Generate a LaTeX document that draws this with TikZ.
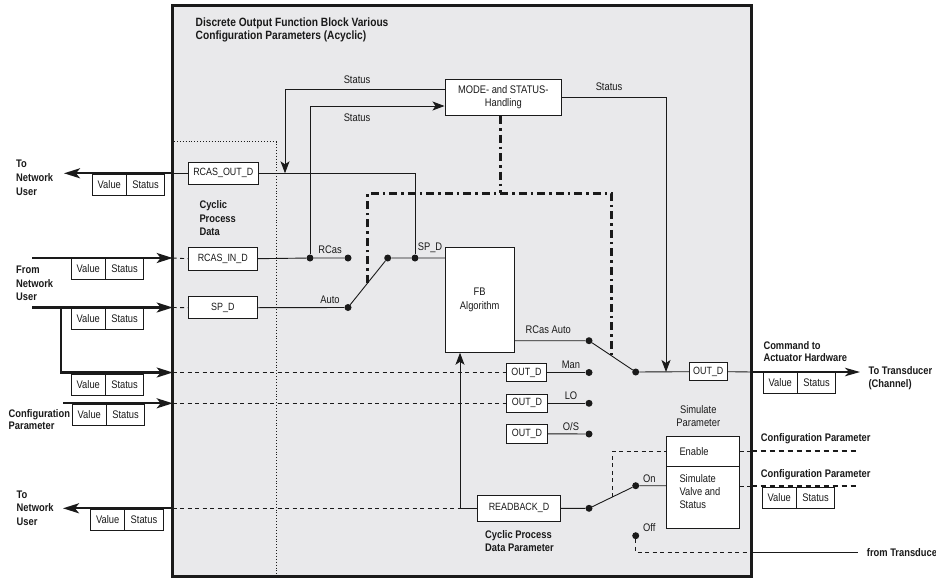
\documentclass[tikz,border=0pt]{standalone}
\usepackage{fontspec}
\setmainfont{Liberation Sans}[FakeStretch=0.85]
\usetikzlibrary{arrows.meta,calc}
\definecolor{panel}{HTML}{E9E9EB}
\definecolor{ink}{HTML}{1A1A1A}

% Value | Status pair: name, left x, top y
\newcommand\valstat[3]{%
  \node[vcell] (#1v) at (#2,#3) {Value};
  \node[scell] (#1s) at (#1v.north east) {Status};}

\begin{document}
\begin{tikzpicture}[x=1pt,y=-1pt,
  every node/.style={font=\fontsize{11}{12.5}\selectfont, text=ink, inner sep=0pt},
  frame/.style={line width=3pt, draw=ink, fill=panel},
  wire/.style={line width=0.9pt, draw=ink},
  bus/.style={line width=2.3pt, draw=ink},
  tip/.style={-{Stealth[length=16pt,width=10pt,inset=4pt]}},
  otip/.style={-{Stealth[length=15pt,width=8.5pt,inset=4pt]}},
  stip/.style={-{Stealth[length=12pt,width=9pt,inset=3pt]}},
  dashwire/.style={wire, dash pattern=on 4pt off 3.5pt},
  cfgdash/.style={line width=1.8pt, draw=ink, dash pattern=on 5.5pt off 3.5pt},
  ctrl/.style={line width=3pt, draw=ink, dash pattern=on 8pt off 4pt on 2.5pt off 4pt},
  pbox/.style={draw=ink, line width=0.9pt, fill=white, align=center},
  sig/.style={pbox, font=\fontsize{10.5}{12}\selectfont},
  dot/.style={circle, fill=ink, minimum size=7pt, inner sep=0pt},
  vcell/.style={draw=ink, line width=0.9pt, fill=white, minimum width=34pt, minimum height=21pt, anchor=north west, outer sep=0pt},
  scell/.style={draw=ink, line width=0.9pt, fill=white, minimum width=38.5pt, minimum height=21pt, anchor=north west, outer sep=0pt},
  head/.style={font=\fontsize{11}{13}\selectfont\bfseries, align=left, anchor=west},
  lbl/.style={font=\fontsize{11}{12.5}\selectfont},
]
\useasboundingbox[fill=white] (0,0) rectangle (936,578);

% function block frame and cyclic data region
\draw[frame] (172.7,6) rectangle (751.7,576.5);
\draw[line width=0.9pt, draw=ink, dotted] (174,141.7) -- (276,141.7) -- (276,575);

\node[head, font=\fontsize{12}{13}\selectfont\bfseries] (title) at (195.5,29.5)
  {Discrete Output Function Block Various\\Configuration Parameters (Acyclic)};

% boxes
\node[pbox, minimum width=116.7pt, minimum height=36.7pt, font=\fontsize{11}{13.5}\selectfont] (mode) at (503.3,97.3) {MODE- and STATUS-\\Handling};
\node[sig, minimum width=70pt, minimum height=22pt] (rco) at (223.3,173.3) {RCAS\_OUT\_D};
\node[sig, minimum width=69pt, minimum height=22.7pt] (rci) at (222.8,258.7) {RCAS\_IN\_D};
\node[sig, minimum width=69pt, minimum height=22pt] (spd) at (222.8,307.7) {SP\_D};
\node[pbox, minimum width=68.7pt, minimum height=104.6pt, font=\fontsize{11}{14}\selectfont] (fb) at (479.7,300) {FB\\Algorithm};
\node[sig, minimum width=38pt, minimum height=18.4pt] (outd) at (708.3,371.7) {OUT\_D};
\node[sig, minimum width=40.7pt, minimum height=18.4pt] (man) at (526.5,372.5) {OUT\_D};
\node[sig, minimum width=40.7pt, minimum height=18.7pt] (lo) at (527,403.3) {OUT\_D};
\node[sig, minimum width=40.7pt, minimum height=19pt] (os) at (527,433.8) {OUT\_D};
\node[sig, minimum width=83.4pt, minimum height=25.3pt] (rb) at (519,508.3) {READBACK\_D};
\node[pbox, minimum width=72.6pt, minimum height=29.3pt, text width=47pt, align=left] (en) at (703,451.35) {Enable};
\node[pbox, minimum width=72.6pt, minimum height=62.3pt] (simv) at (703,497.15) {};
\node[lbl, align=left, anchor=west, font=\fontsize{11}{13.3}\selectfont] (simt) at (679.3,491.7) {Simulate\\Valve and\\Status};

% switch contacts and junctions
\node[dot] (jri) at (310,258) {};
\node[dot] (drcas) at (348,258) {};
\node[dot] (dauto) at (348,307.5) {};
\node[dot] (dsw) at (387.7,258) {};
\node[dot] (jsp) at (415,258) {};
\node[dot] (dra) at (589,340.7) {};
\node[dot] (dout) at (635.7,372) {};
\node[dot] (dman) at (589,372.5) {};
\node[dot] (dlo) at (589,403.3) {};
\node[dot] (dos) at (589,434) {};
\node[dot] (drb) at (589,508.3) {};
\node[dot] (don) at (635.7,485.7) {};
\node[dot] (doff) at (635.7,535.7) {};

% free ends and corners
\coordinate (stin) at (285,173.3);
\coordinate (stout) at (666,372);
\coordinate (rcoturn) at (415,173.3);
\coordinate (rbc) at (460,508.3);
\coordinate (ero) at (172.7,173.3);
\coordinate (eri) at (172.7,258);
\coordinate (esp) at (172.7,307.5);
\coordinate (eman) at (172.7,372.5);
\coordinate (elo) at (172.7,403.3);
\coordinate (erb) at (172.7,508.3);
\coordinate (xro) at (64,173.3);
\coordinate (sri) at (32,258);
\coordinate (ssp) at (32,307.5);
\coordinate (bsp) at (61,307.5);
\coordinate (slo) at (63,403.3);
\coordinate (xrb) at (63,508.3);
\coordinate (eout) at (751.7,372);
\coordinate (xout) at (860,372);
\coordinate (een) at (751.7,451.35);
\coordinate (xen) at (856.7,451.35);
\coordinate (esv) at (751.7,486);
\coordinate (xsv) at (856.7,486);
\coordinate (etr) at (751.7,552.5);
\coordinate (xtr) at (858,552.5);
\coordinate (ctop) at (0,193.3);
\coordinate (arml) at ($(dauto)!0.5!(dsw)$);
\coordinate (armr) at ($(dra)!0.49!(dout)$);
\coordinate (arms) at ($(drb)!0.5!(don)$);

% mode control (dash-dot)
\draw[ctrl] (arml) -- (arml |- ctop) -- (armr |- ctop) -- (armr);
\draw[ctrl] ([xshift=-3pt]mode.south) -- ([xshift=-3pt]mode.south |- ctop);

% status feedback
\draw[wire, stip] ([yshift=8.3pt]mode.west) -| (stin);
\draw[wire, stip] (jri) |- ([yshift=-8.7pt]mode.west);
\draw[wire, stip] (mode.east) -| (stout);

% signal paths
\draw[wire] (rco.east) -- (rcoturn) -- (jsp);
\draw[wire] (rci.east) -- (jri) -- (drcas);
\draw[wire] (spd.east) -- (dauto) -- (dsw) -- (jsp) -- (fb.west |- jsp);
\draw[wire] (fb.east |- dra) -- (dra) -- (dout) -- (outd.west);
\draw[wire] (man.east) -- (dman);
\draw[wire] (lo.east) -- (dlo);
\draw[wire] (os.east) -- (dos);
\draw[wire] (rb.east) -- (drb) -- (don) -- (simv.west |- don);
\draw[wire, stip] (rb.west) -- (rbc) -- (rbc |- fb.south);
\draw[wire] (rco.west) -- (ero);
\draw[wire] (outd.east) -- (eout);

% acyclic / cyclic links inside the block
\draw[dashwire] (eri) -- (rci.west);
\draw[dashwire] (esp) -- (spd.west);
\draw[dashwire] (eman) -- (man.west);
\draw[dashwire] (elo) -- (lo.west);
\draw[dashwire] (erb) -- (rbc);
\draw[dashwire, line width=1.3pt] (arms) |- (en.west);
\draw[dashwire, line width=1.2pt] (doff) |- (etr);
\draw[dashwire] (en.east) -- (een);
\draw[dashwire] ([yshift=11.15pt]simv.east) -- (esv);

% network and hardware connections
\draw[bus, tip] (ero) -- (xro);
\draw[bus, tip] (sri) -- (eri);
\draw[bus, tip] (ssp) -- (esp);
\draw[bus, tip] (bsp) |- (eman);
\draw[bus, tip] (slo) -- (elo);
\draw[bus, tip] (erb) -- (xrb);
\draw[line width=1.3pt, draw=ink, otip] (eout) -- (xout);
\draw[cfgdash] (een) -- (xen);
\draw[cfgdash] (esv) -- (xsv);
\draw[wire] (etr) -- (xtr);

% value / status records
\valstat{vro}{92.3}{174}
\valstat{vri}{71.3}{258.3}
\valstat{vsp}{71.3}{308.3}
\valstat{vman}{71.3}{374}
\valstat{vcfg}{72.3}{404}
\valstat{vrb}{90.7}{509.3}
\valstat{vout}{763.3}{372.3}
\valstat{vsim}{762.3}{487}

% signal labels
\node[lbl] (lst1) at (357,80) {Status};
\node[lbl] (lst2) at (357,118) {Status};
\node[lbl] (lst3) at (609,87) {Status};
\node[lbl] (lrcas) at (330,250) {RCas};
\node[lbl] (lauto) at (330,300) {Auto};
\node[lbl] (lspd) at (430,248) {SP\_D};
\node[lbl] (lra) at (548.3,329.3) {RCas Auto};
\node[lbl] (lman) at (571,365) {Man};
\node[lbl] (llo) at (571,395.5) {LO};
\node[lbl] (los) at (571,427) {O/S};
\node[lbl] (lon) at (649.3,478.3) {On};
\node[lbl] (loff) at (649.3,527.7) {Off};
\node[lbl, align=center, font=\fontsize{11}{13.3}\selectfont] (lsim) at (698.3,416) {Simulate\\Parameter};

% headings
\node[head, font=\fontsize{11}{14}\selectfont\bfseries] (hto1) at (16,178) {To\\Network\\User};
\node[head, font=\fontsize{11}{13.3}\selectfont\bfseries] (hfrom) at (16,283.3) {From\\Network\\User};
\node[head, font=\fontsize{11}{12}\selectfont\bfseries] (hcfg) at (8.5,419.2) {Configuration\\Parameter};
\node[head, font=\fontsize{11}{13.3}\selectfont\bfseries] (hto2) at (16.5,508) {To\\Network\\User};
\node[head, font=\fontsize{11}{13.3}\selectfont\bfseries] (hcyc) at (199.3,218.3) {Cyclic\\Process\\Data};
\node[head, font=\fontsize{11}{12.4}\selectfont\bfseries] (hcmd) at (763.3,351.5) {Command to\\Actuator Hardware};
\node[head, font=\fontsize{11}{12.6}\selectfont\bfseries] (htr) at (868.3,378) {To Transducer\\(Channel)};
\node[head] (hcfg2) at (760.7,438.3) {Configuration Parameter};
\node[head] (hcfg3) at (760.7,475) {Configuration Parameter};
\node[head, font=\fontsize{11}{12.7}\selectfont\bfseries] (hcpd) at (485,541.3) {Cyclic Process\\Data Parameter};
\node[head] (hft) at (866.7,552.7) {from Transduce};
\end{tikzpicture}
\end{document}
